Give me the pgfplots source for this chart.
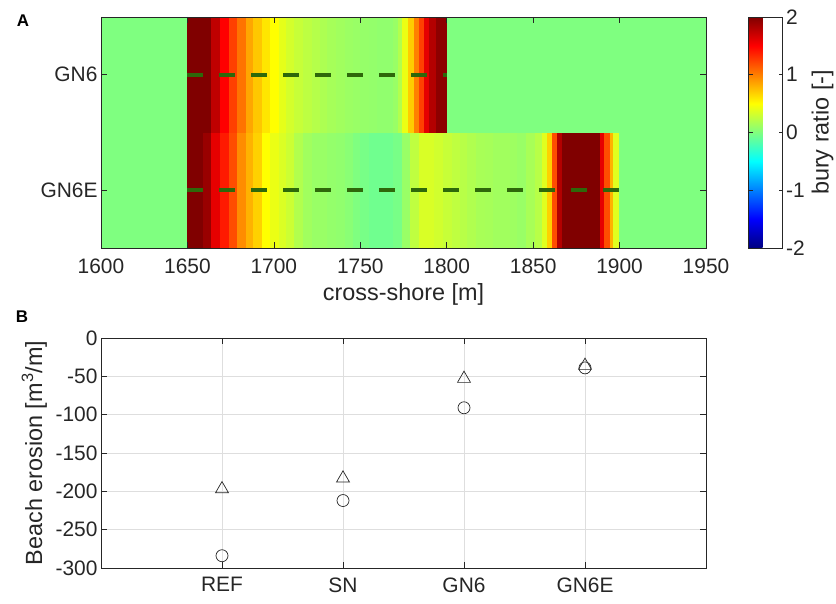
\documentclass[border=0pt]{standalone}
\usepackage{pgfplots}
\pgfplotsset{compat=1.18}
\usepackage{fontspec}
\setmainfont{Liberation Sans}

\definecolor{dashgreen}{RGB}{46,104,10}
\definecolor{axgray}{RGB}{38,38,38}

\newcommand{\tickfont}{\fontsize{21}{25}\selectfont}
\newcommand{\labfont}{\fontsize{23.5}{28}\selectfont}

\pgfplotsset{
  mystyle/.style={
    scale only axis,
    /pgf/number format/assume math mode=true,
    /pgf/number format/1000 sep={},
    tick align=inside,
    major tick length=6bp,
    axis line style={draw=axgray, line width=0.7bp},
    tick style={draw=axgray, line width=0.7bp},
    every tick label/.append style={font=\tickfont, text=axgray},
    label style={font=\labfont, text=axgray},
  }
}

\begin{document}
\begin{tikzpicture}[x=1bp,y=1bp]
\useasboundingbox (0,0) rectangle (836,-604);

% panel A: bury ratio along cross-shore
\begin{axis}[
  mystyle,
  at={(101bp,-17bp)}, anchor=north west,
  width=605bp, height=231bp,
  xmin=1600, xmax=1950, ymin=0.5, ymax=2.5,
  xtick={1600,1650,...,1950},
  ytick={1,2}, yticklabels={GN6E,GN6},
  xticklabel style={yshift=-7bp},
  xlabel={cross-shore [m]},
  xlabel style={at={(axis description cs:0.5,-0.2)}, anchor=center},
  axis on top,
  colormap/jet,
  point meta min=-2, point meta max=2,
  colorbar,
  colorbar style={
    at={(parent axis.north east)}, anchor=north west, xshift=34bp,
    scale only axis, width=34bp, height=231bp,
    ytick={-2,-1,0,1,2},
    /pgf/number format/assume math mode=true,
    major tick length=4bp,
    axis line style={draw=axgray, line width=0.7bp},
    tick style={draw=axgray, line width=0.7bp},
    yticklabel style={font=\tickfont, text=axgray},
    ylabel={bury ratio [-]},
    ylabel style={font=\labfont, text=axgray, at={(axis description cs:1,0.5)},
      anchor=center, yshift=-40bp},
  },
]
% GN6E row (colour from lower corner)
\addplot[surf, shader=flat corner, mesh/rows=2, point meta=explicit]
  table[x=x, y=y, meta=c] {
x y c
1600 0.5 0
1650 0.5 2
1659 0.5 1.9
1664 0.5 1.6
1669 0.5 1.4
1674 0.5 1.2
1679 0.5 0.95
1684 0.5 0.8
1688 0.5 0.68
1693 0.5 0.5
1698 0.5 0.42
1703 0.5 0.36
1707 0.5 0.3
1712 0.5 0.2
1717 0.5 0.13
1722 0.5 0.1
1727 0.5 0.1
1731 0.5 0.08
1736 0.5 0.07
1741 0.5 0.04
1746 0.5 0.0
1750 0.5 -0.03
1755 0.5 -0.06
1760 0.5 -0.06
1764 0.5 -0.06
1769 0.5 -0.03
1774 0.5 0.1
1779 0.5 0.25
1784 0.5 0.35
1788 0.5 0.35
1793 0.5 0.32
1798 0.5 0.28
1803 0.5 0.25
1808 0.5 0.22
1812 0.5 0.19
1817 0.5 0.16
1822 0.5 0.15
1827 0.5 0.13
1832 0.5 0.13
1837 0.5 0.12
1841 0.5 0.1
1846 0.5 0.16
1851 0.5 0.22
1855 0.5 0.38
1858 0.5 0.68
1861 0.5 1.2
1864 0.5 1.8
1867 0.5 2
1889 0.5 1.6
1891 0.5 1.2
1894.5 0.5 0.8
1896.5 0.5 0.38
1900 0.5 0
1950 0.5 0
1600 1.5 0
1650 1.5 0
1659 1.5 0
1664 1.5 0
1669 1.5 0
1674 1.5 0
1679 1.5 0
1684 1.5 0
1688 1.5 0
1693 1.5 0
1698 1.5 0
1703 1.5 0
1707 1.5 0
1712 1.5 0
1717 1.5 0
1722 1.5 0
1727 1.5 0
1731 1.5 0
1736 1.5 0
1741 1.5 0
1746 1.5 0
1750 1.5 0
1755 1.5 0
1760 1.5 0
1764 1.5 0
1769 1.5 0
1774 1.5 0
1779 1.5 0
1784 1.5 0
1788 1.5 0
1793 1.5 0
1798 1.5 0
1803 1.5 0
1808 1.5 0
1812 1.5 0
1817 1.5 0
1822 1.5 0
1827 1.5 0
1832 1.5 0
1837 1.5 0
1841 1.5 0
1846 1.5 0
1851 1.5 0
1855 1.5 0
1858 1.5 0
1861 1.5 0
1864 1.5 0
1867 1.5 0
1889 1.5 0
1891 1.5 0
1894.5 1.5 0
1896.5 1.5 0
1900 1.5 0
1950 1.5 0
};
% GN6 row
\addplot[surf, shader=flat corner, mesh/rows=2, point meta=explicit]
  table[x=x, y=y, meta=c] {
x y c
1600 1.5 0
1650 1.5 2
1664 1.5 1.75
1669 1.5 1.5
1674 1.5 1.25
1679 1.5 1.05
1684 1.5 0.85
1688 1.5 0.72
1693 1.5 0.6
1698 1.5 0.5
1703 1.5 0.4
1707 1.5 0.33
1712 1.5 0.28
1717 1.5 0.24
1722 1.5 0.21
1727 1.5 0.18
1731 1.5 0.15
1736 1.5 0.13
1741 1.5 0.11
1746 1.5 0.1
1750 1.5 0.09
1755 1.5 0.08
1760 1.5 0.07
1765 1.5 0.07
1769 1.5 0.1
1772 1.5 0.2
1774 1.5 0.42
1778 1.5 0.7
1781 1.5 1.0
1784 1.5 1.25
1787 1.5 1.6
1790 1.5 1.8
1794 1.5 1.95
1800 1.5 0
1950 1.5 0
1600 2.5 0
1650 2.5 0
1664 2.5 0
1669 2.5 0
1674 2.5 0
1679 2.5 0
1684 2.5 0
1688 2.5 0
1693 2.5 0
1698 2.5 0
1703 2.5 0
1707 2.5 0
1712 2.5 0
1717 2.5 0
1722 2.5 0
1727 2.5 0
1731 2.5 0
1736 2.5 0
1741 2.5 0
1746 2.5 0
1750 2.5 0
1755 2.5 0
1760 2.5 0
1765 2.5 0
1769 2.5 0
1772 2.5 0
1774 2.5 0
1778 2.5 0
1781 2.5 0
1784 2.5 0
1787 2.5 0
1790 2.5 0
1794 2.5 0
1800 2.5 0
1950 2.5 0
};
% structure extent
\addplot[dashgreen, line width=4bp, dash pattern=on 16bp off 16bp] coordinates {(1650,2) (1800,2)};
\addplot[dashgreen, line width=4bp, dash pattern=on 16bp off 16bp] coordinates {(1650,1) (1900,1)};
\end{axis}

% panel B: beach erosion per case
\begin{axis}[
  mystyle,
  at={(101bp,-338bp)}, anchor=north west,
  width=605bp, height=230bp,
  xmin=0, xmax=5, ymin=-300, ymax=0,
  xtick={1,2,3,4}, xticklabels={REF,SN,GN6,GN6E},
  ytick={-300,-250,...,0},
  xticklabel style={yshift=-6bp},
  grid=major, major grid style={draw=black!13, line width=0.6bp},
  ylabel={Beach erosion [m\textsuperscript{3}/m]},
  ylabel style={at={(axis description cs:-0.11,0.5)}, anchor=center},
]
\addplot[only marks, mark=triangle, mark size=7.5bp, mark options={draw=axgray, line width=0.7bp}]
  coordinates {(1,-197) (2,-183) (3,-53) (4,-36)};
\addplot[only marks, mark=o, mark size=6bp, mark options={draw=axgray, line width=0.7bp}]
  coordinates {(1,-284) (2,-212) (3,-91) (4,-39)};
\end{axis}

\node[font=\fontsize{17}{20}\selectfont\bfseries, text=black] at (23,-21) {A};
\node[font=\fontsize{17}{20}\selectfont\bfseries, text=black] at (22,-317) {B};
\end{tikzpicture}
\end{document}
